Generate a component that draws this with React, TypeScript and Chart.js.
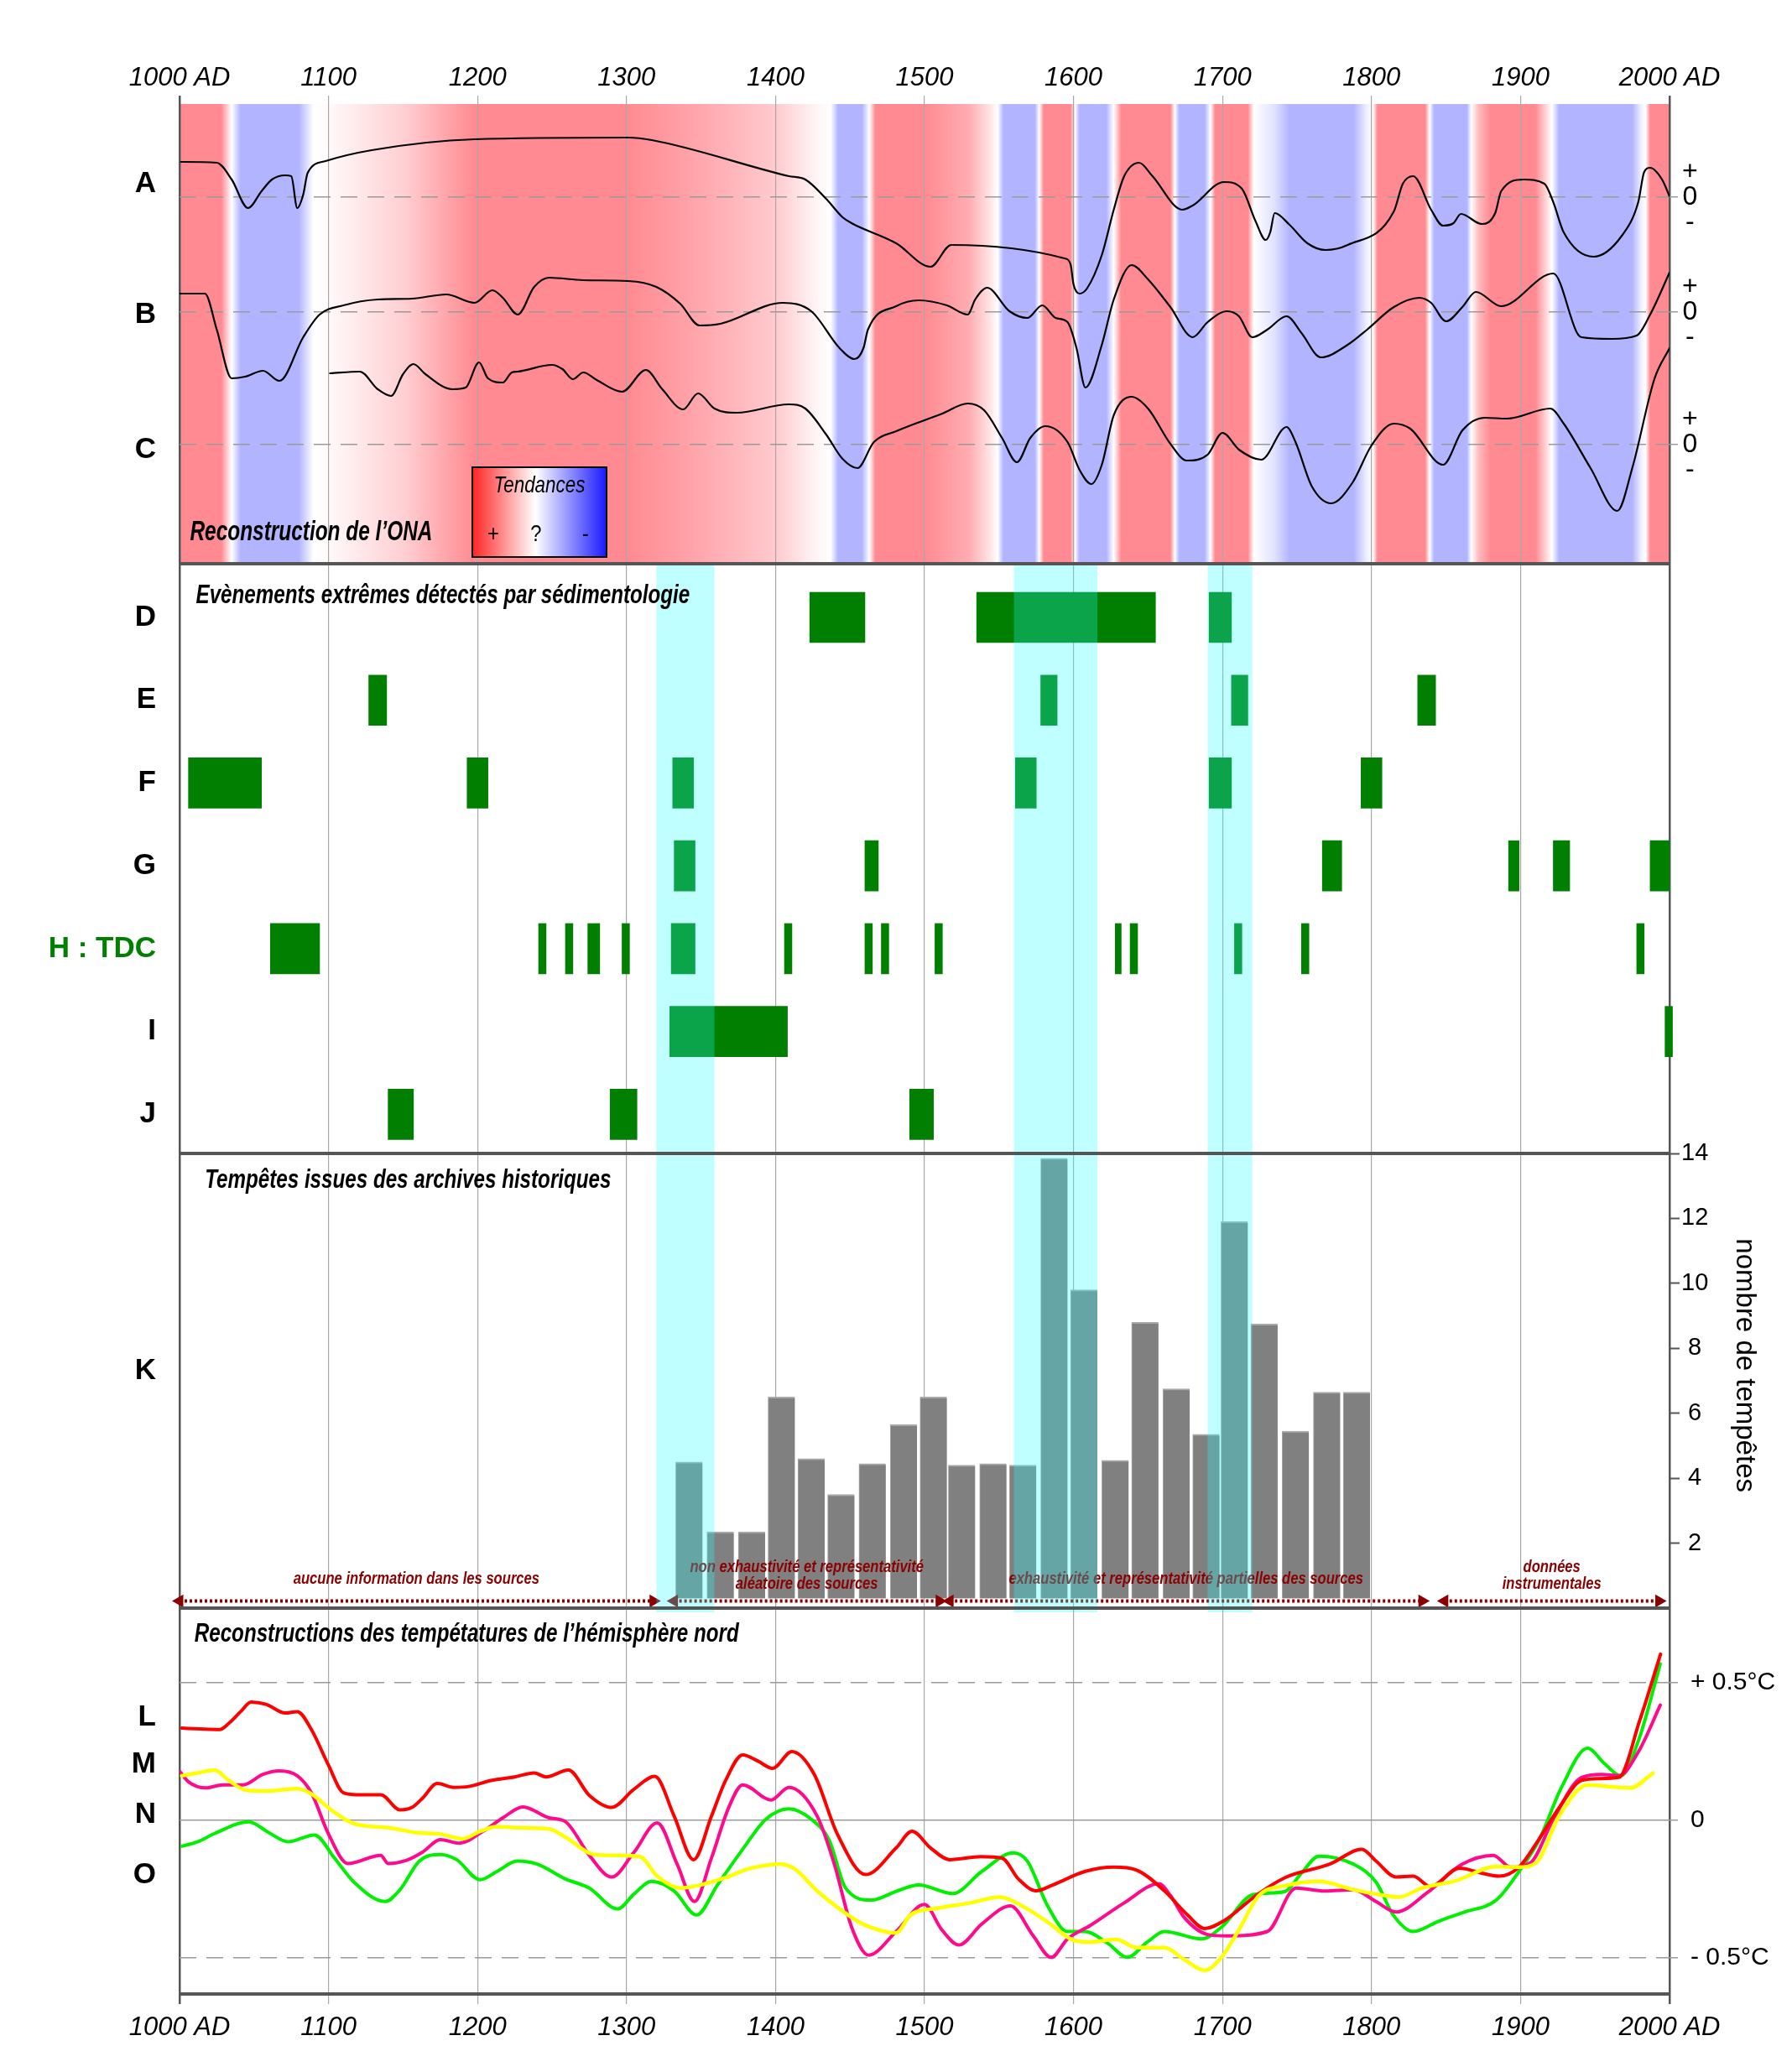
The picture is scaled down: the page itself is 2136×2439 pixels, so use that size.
import React, { useEffect, useRef } from 'react';
import { Chart, registerables } from 'chart.js';

Chart.register(...registerables);

// ------------------------------------------------------------------ data
const yearTicks = [1000, 1100, 1200, 1300, 1400, 1500, 1600, 1700, 1800, 1900, 2000];

// ONA trend (background): +1 positive (red), 0 uncertain (white), -1 negative (blue)
const trendPoints = [
  [1000, 1], [1028, 1], [1035, 0], [1041, -1], [1080, -1], [1090, 0], [1100, 0.05], [1150, 0.4],
  [1198, 1], [1300, 1], [1350, 0.75], [1400, 0.45], [1425, 0.12], [1437, 0], [1442, -1], [1458, -1],
  [1463, 0], [1467, 1], [1500, 1], [1530, 0.7], [1545, 0.2], [1549, 0], [1553, -1], [1574, -1],
  [1577, 0], [1580, 1], [1598, 1], [1601, 0], [1604, -1], [1622, -1], [1627, 0], [1632, 1],
  [1665, 1], [1668, 0], [1671, -1], [1688, -1], [1692, 0], [1695, 1], [1717, 1], [1721, 0],
  [1735, -0.4], [1745, -1], [1788, -1], [1797, -0.2], [1801, 0], [1804, 1], [1836, 1], [1839, 0],
  [1842, -1], [1864, -1], [1867, 0], [1872, 0.6], [1880, 1], [1910, 1], [1921, 0], [1926, -1],
  [1975, -1], [1981, -0.2], [1984, 0], [1987, 1], [2000, 1],
];

// NAO reconstructions A, B, C (anomaly, arbitrary units)
const curveA = [
  [1001, 0.42], [1025, 0.41], [1035, 0.21], [1046, -0.13], [1055, 0.07], [1062, 0.21], [1071, 0.26],
  [1075, 0.25], [1079, -0.13], [1083, 0.03], [1086, 0.29], [1098, 0.43], [1129, 0.56], [1198, 0.69],
  [1301, 0.71], [1317, 0.68], [1409, 0.25], [1420, 0.21], [1434, -0.02], [1445, -0.24], [1451, -0.31],
  [1481, -0.55], [1504, -0.83], [1518, -0.57], [1594, -0.73], [1598, -0.8], [1600, -1.04], [1604, -1.15],
  [1609, -1.09], [1619, -0.69], [1627, -0.15], [1634, 0.25], [1644, 0.41], [1653, 0.25], [1673, -0.15],
  [1680, -0.1], [1701, 0.18], [1713, 0.1], [1722, -0.28], [1729, -0.51], [1732, -0.42], [1735, -0.19],
  [1745, -0.33], [1757, -0.55], [1769, -0.63], [1784, -0.57], [1815, -0.17], [1821, 0.16], [1828, 0.25],
  [1840, -0.15], [1848, -0.34], [1855, -0.31], [1860, -0.2], [1874, -0.32], [1883, -0.19], [1887, 0.07],
  [1902, 0.21], [1916, 0.16], [1922, -0.06], [1929, -0.42], [1949, -0.71], [1968, -0.46], [1979, -0.06],
  [1983, 0.3], [1987, 0.35], [1995, 0.21], [2000, 0.01],
];
const curveB = [
  [1000, 0.22], [1017, 0.22], [1025, -0.21], [1035, -0.79], [1044, -0.77], [1056, -0.7], [1067, -0.82],
  [1083, -0.3], [1094, -0.03], [1110, 0.08], [1133, 0.15], [1156, 0.16], [1179, 0.21], [1198, 0.11],
  [1210, 0.26], [1217, 0.17], [1227, -0.03], [1238, 0.3], [1248, 0.41], [1271, 0.38], [1301, 0.37],
  [1320, 0.3], [1336, 0.1], [1349, -0.16], [1363, -0.14], [1405, 0.11], [1424, 0.01], [1443, -0.43],
  [1453, -0.56], [1459, -0.43], [1462, -0.21], [1481, 0.07], [1496, 0.14], [1515, 0.08], [1529, -0.03],
  [1534, 0.15], [1542, 0.29], [1557, 0.01], [1569, -0.07], [1579, 0.08], [1588, -0.07], [1596, -0.12],
  [1602, -0.43], [1608, -0.9], [1619, -0.39], [1627, 0.15], [1639, 0.56], [1650, 0.39], [1665, 0.06],
  [1680, -0.3], [1690, -0.12], [1703, 0.01], [1711, -0.05], [1720, -0.3], [1730, -0.21], [1743, -0.05],
  [1753, -0.25], [1766, -0.54], [1784, -0.39], [1797, -0.21], [1815, 0.06], [1832, 0.17], [1840, 0.11],
  [1850, -0.11], [1861, 0.06], [1870, 0.24], [1887, 0.07], [1922, 0.46], [1938, -0.25], [1941, -0.3],
  [1961, -0.32], [1978, -0.28], [1987, -0.03], [2000, 0.47],
];
const curveC = [
  [1101, 0.85], [1121, 0.87], [1133, 0.66], [1142, 0.58], [1150, 0.84], [1157, 0.96], [1165, 0.84],
  [1183, 0.66], [1192, 0.68], [1201, 0.98], [1207, 0.79], [1217, 0.74], [1223, 0.86], [1227, 0.87],
  [1250, 0.95], [1257, 0.9], [1264, 0.78], [1271, 0.86], [1280, 0.77], [1297, 0.63], [1313, 0.89],
  [1324, 0.66], [1338, 0.42], [1348, 0.61], [1359, 0.43], [1374, 0.38], [1409, 0.48], [1420, 0.43],
  [1434, 0.12], [1445, -0.17], [1455, -0.28], [1466, 0.03], [1481, 0.16], [1512, 0.37], [1529, 0.49],
  [1540, 0.41], [1552, 0.08], [1562, -0.21], [1571, 0.08], [1581, 0.22], [1596, 0.03], [1604, -0.3],
  [1612, -0.47], [1619, -0.24], [1627, 0.35], [1639, 0.57], [1650, 0.43], [1665, 0.01], [1676, -0.19],
  [1690, -0.12], [1700, 0.14], [1711, -0.06], [1726, -0.18], [1743, 0.21], [1749, 0.03], [1760, -0.5],
  [1773, -0.7], [1787, -0.46], [1800, -0.01], [1815, 0.25], [1826, 0.19], [1848, -0.24], [1861, 0.17],
  [1876, 0.32], [1891, 0.31], [1920, 0.43], [1929, 0.25], [1947, -0.28], [1965, -0.79], [1975, -0.28],
  [1990, 0.79], [2000, 1.15],
];

// extreme events detected by sedimentology (start, end years)
const eventRows = ['D', 'E', 'F', 'G', 'H : TDC', 'I', 'J'];
const eventsD = [[1423, 1460], [1535, 1655], [1691, 1706]];
const eventsE = [[1127, 1139], [1578, 1589], [1706, 1717], [1831, 1843]];
const eventsF = [[1006, 1055], [1193, 1207], [1331, 1345], [1561, 1575], [1691, 1706], [1793, 1807]];
const eventsG = [[1332, 1346], [1460, 1469], [1767, 1780], [1892, 1899], [1922, 1933], [1987, 2000]];
const eventsH = [
  [1061, 1094], [1241, 1246], [1259, 1264], [1274, 1282], [1297, 1302], [1330, 1346], [1406, 1411],
  [1460, 1465], [1471, 1476], [1507, 1512], [1628, 1632], [1638, 1643], [1708, 1713], [1753, 1758],
  [1978, 1983],
];
const eventsI = [[1329, 1408], [1997, 2002]];
const eventsJ = [[1140, 1157], [1289, 1307], [1490, 1506]];

// storms from historical archives
const stormYears = [1342, 1363, 1384, 1404, 1424, 1444, 1465, 1486, 1506, 1525, 1546, 1566, 1587, 1607, 1628, 1648, 1669, 1689, 1708, 1728, 1749, 1770, 1790];
const stormCounts = [4.5, 2.35, 2.35, 6.5, 4.6, 3.5, 4.45, 5.65, 6.5, 4.4, 4.45, 4.4, 13.85, 9.8, 4.55, 8.8, 6.75, 5.35, 11.9, 8.75, 5.45, 6.65, 6.65];
const stormTicks = [2, 4, 6, 8, 10, 12, 14];

// periods highlighted in cyan
const highlightPeriods = [[1320, 1359], [1560, 1616], [1690, 1720]];

// source quality periods
const sourcePeriods = [[1000, 1318], [1332, 1510], [1517, 1834], [1849, 1993]];
const sourceLabels = [
  ['aucune information dans les sources'],
  ['non exhaustivité et représentativité', 'aléatoire des sources'],
  ['exhaustivité et représentativité partielles des sources'],
  ['données', 'instrumentales'],
];

// northern hemisphere temperature reconstructions (°C anomaly)
const tempL = [
  [1001.5, 0.335], [1014, 0.332], [1027, 0.33], [1033, 0.352], [1041, 0.395], [1048, 0.43], [1058, 0.422],
  [1071, 0.39], [1079, 0.395], [1088.5, 0.33], [1100, 0.2], [1110, 0.1], [1119, 0.093], [1135, 0.093],
  [1148, 0.038], [1156, 0.047], [1163, 0.08], [1173, 0.134], [1184, 0.12], [1194, 0.123], [1209, 0.145],
  [1225, 0.158], [1238, 0.172], [1246, 0.158], [1261, 0.183], [1275, 0.091], [1290, 0.047], [1305, 0.113],
  [1319, 0.16], [1332, 0.015], [1345, -0.143], [1357, 0.015], [1366.5, 0.145], [1378, 0.238], [1388, 0.216],
  [1398, 0.189], [1411, 0.25], [1426, 0.167], [1441.5, -0.05], [1460.5, -0.197], [1481, -0.1], [1491.6, -0.04],
  [1504, -0.1], [1517, -0.143], [1538, -0.132], [1552, -0.137], [1563, -0.213], [1575, -0.256], [1586, -0.235],
  [1607.5, -0.186], [1627, -0.17], [1642, -0.18], [1661, -0.256], [1676.5, -0.344], [1688, -0.393],
  [1701, -0.365], [1722.5, -0.273], [1742, -0.208], [1772, -0.159], [1793.5, -0.105], [1803, -0.148],
  [1816.5, -0.206], [1828, -0.203], [1839.5, -0.241], [1859, -0.174], [1874, -0.192], [1885.5, -0.203],
  [1899, -0.17], [1912, -0.072], [1926, 0.047], [1941, 0.145], [1953, 0.152], [1966, 0.156], [1980, 0.363],
  [1994, 0.604],
];
const tempM = [
  [1000, 0.178], [1006, 0.14], [1017.6, 0.118], [1029, 0.129], [1042.5, 0.129], [1056, 0.167], [1067, 0.18],
  [1079, 0.162], [1088.5, 0.1], [1100, -0.05], [1113, -0.157], [1135, -0.127], [1140, -0.157], [1152, -0.146],
  [1163, -0.116], [1175, -0.07], [1188, -0.083], [1203.6, -0.04], [1217, 0.009], [1230.5, 0.049], [1248, 0.009],
  [1259, -0.005], [1275, -0.127], [1290, -0.206], [1305, -0.116], [1320.6, -0.009], [1334, -0.16],
  [1345.6, -0.295], [1357, -0.137], [1368.6, 0.047], [1378, 0.129], [1397, 0.074], [1409, 0.12], [1428, 0.015],
  [1439.5, -0.16], [1451, -0.387], [1462.5, -0.49], [1481, -0.404], [1500, -0.306], [1511.6, -0.398],
  [1523, -0.453], [1538.4, -0.377], [1557.6, -0.311], [1573, -0.42], [1585, -0.498], [1596, -0.431],
  [1611.3, -0.382], [1634, -0.3], [1657.3, -0.23], [1665, -0.273], [1674.6, -0.355], [1690, -0.415],
  [1703.4, -0.42], [1730, -0.404], [1749.4, -0.246], [1768.6, -0.257], [1787.8, -0.252], [1803, -0.295],
  [1816.5, -0.333], [1837.6, -0.262], [1860.6, -0.16], [1881.7, -0.127], [1893.3, -0.17], [1906.7, -0.154],
  [1922, 0.004], [1941, 0.156], [1954.6, 0.167], [1966, 0.162], [1979.6, 0.254], [1993.8, 0.419],
];
const tempN = [
  [1001.5, 0.162], [1012, 0.172], [1023.5, 0.183], [1033, 0.145], [1044.5, 0.11], [1060, 0.107], [1079, 0.115],
  [1088.5, 0.096], [1102, 0.037], [1117, -0.012], [1140, -0.027], [1159.6, -0.045], [1175, -0.05],
  [1190, -0.067], [1201.7, -0.04], [1213, -0.023], [1228.6, -0.027], [1248, -0.031], [1259, -0.061],
  [1278.5, -0.124], [1294, -0.127], [1309, -0.132], [1320.6, -0.203], [1336, -0.246], [1349.4, -0.235],
  [1366.6, -0.208], [1382, -0.176], [1403, -0.159], [1412.7, -0.176], [1428, -0.257], [1443, -0.322],
  [1458.6, -0.377], [1481, -0.409], [1490.5, -0.344], [1507.8, -0.32], [1530.8, -0.3], [1550, -0.279],
  [1569, -0.322], [1584.5, -0.377], [1600, -0.436], [1611.3, -0.442], [1628.6, -0.433], [1642, -0.462],
  [1661, -0.463], [1674.6, -0.507], [1688, -0.545], [1699.5, -0.496], [1711, -0.398], [1724.5, -0.273],
  [1741.7, -0.238], [1764.7, -0.222], [1787.8, -0.252], [1803, -0.268], [1818.5, -0.279], [1833.8, -0.246],
  [1856.8, -0.219], [1883.7, -0.168], [1899, -0.17], [1910.5, -0.154], [1925.8, 0.015], [1945, 0.129],
  [1958.6, 0.123], [1973.8, 0.118], [1989, 0.172],
];
const tempO = [
  [1001.5, -0.094], [1012, -0.078], [1023.5, -0.048], [1046.5, -0.005], [1060, -0.045], [1073, -0.078],
  [1090.5, -0.053], [1104, -0.137], [1117, -0.224], [1138, -0.295], [1148, -0.252], [1161, -0.148],
  [1175, -0.124], [1186, -0.143], [1201.7, -0.216], [1213, -0.186], [1226.6, -0.148], [1240, -0.159],
  [1259, -0.213], [1275, -0.246], [1294, -0.322], [1305, -0.268], [1316.7, -0.222], [1332, -0.257],
  [1347, -0.344], [1361, -0.235], [1378, -0.105], [1393.5, 0.004], [1409, 0.042], [1424, 0.004], [1436, -0.072],
  [1447, -0.246], [1464.5, -0.29], [1481, -0.258], [1496, -0.235], [1519, -0.266], [1538.4, -0.186],
  [1559.5, -0.118], [1569, -0.148], [1582.6, -0.311], [1596, -0.404], [1607.5, -0.404], [1623, -0.447],
  [1636, -0.498], [1649.6, -0.442], [1661, -0.404], [1686, -0.431], [1699.5, -0.387], [1720.6, -0.27],
  [1741.7, -0.259], [1753, -0.192], [1764.7, -0.13], [1787.8, -0.159], [1803, -0.224], [1814.6, -0.344],
  [1828, -0.404], [1845.3, -0.366], [1862.6, -0.333], [1883.7, -0.29], [1899, -0.186], [1912.4, -0.072],
  [1927.8, 0.123], [1945, 0.262], [1956.6, 0.205], [1967.3, 0.162], [1979.6, 0.297], [1993.8, 0.569],
];
const tempTicks = [0.5, 0, -0.5];
const tempTickLabels = ['+ 0.5°C', '0', '- 0.5°C'];

const abcRows = ['A', 'B', 'C'];
const tempRows = ['L', 'M', 'N', 'O'];

// ------------------------------------------------------------------ styles / layout
const W = 2136;
const H = 2439;
const SANS = "'Liberation Sans', Arial, sans-serif";
const LEFT_W = 214;
const RIGHT_W = 146;
const ABC_BASE = [2.95, 1.58, 0];
const ABC_LABEL_POS = [3.11, 1.55, -0.06];
const TEMP_LABEL_POS = [0.373, 0.204, 0.021, -0.198];
const K_LABEL_POS = 7.3;
const ARROW_Y = 0.22;
const DARK_RED = '#8b0000';

function trendColor(v: number) {
  const red = [255, 138, 145];
  const blue = [178, 180, 255];
  const t = Math.min(1, Math.abs(v));
  const c = v >= 0 ? red : blue;
  const rgb = c.map((ch) => Math.round(255 + (ch - 255) * t));
  return `rgb(${rgb.join(',')})`;
}

// condensed text (horizontally squeezed Liberation Sans, like Arial Narrow)
function narrowText(ctx: CanvasRenderingContext2D, text: string, x: number, y: number, font: string, align: CanvasTextAlign, sx = 0.78) {
  ctx.save();
  ctx.font = font;
  ctx.textAlign = align;
  ctx.textBaseline = 'middle';
  ctx.translate(x, y);
  ctx.scale(sx, 1);
  ctx.fillText(text, 0, 0);
  ctx.restore();
}

const isEdgeYear = (c: any) => c.tick && (c.tick.value === 1000 || c.tick.value === 2000);
const gridColor = (c: any) => (isEdgeYear(c) ? '#555' : '#a8a8a8');
const gridWidth = (c: any) => (isEdgeYear(c) ? 2.5 : 1.2);
const yearLabel = (v: any) => (v === 1000 || v === 2000 ? `${v} AD` : `${v}`);

const decorPlugin = {
  id: 'decor',
  beforeDraw(chart: any) {
    const { ctx, scales } = chart;
    const x = scales.x;
    const ya = scales.yABC;
    const x0 = x.getPixelForValue(1000);
    const x1 = x.getPixelForValue(2000);
    const g = ctx.createLinearGradient(x0, 0, x1, 0);
    trendPoints.forEach(([yr, v]) => {
      g.addColorStop((x.getPixelForValue(yr) - x0) / (x1 - x0), trendColor(v));
    });
    ctx.save();
    ctx.fillStyle = g;
    ctx.fillRect(x0, ya.top, x1 - x0, ya.bottom - ya.top);
    ctx.restore();
  },
  afterDatasetsDraw(chart: any) {
    const { ctx, scales } = chart;
    const x = scales.x;
    const yk = scales.yK;
    const ye = scales.yEv;
    const ya = scales.yABC;
    ctx.save();
    // source-quality annotations
    ctx.fillStyle = DARK_RED;
    const ay = yk.getPixelForValue(ARROW_Y);
    sourcePeriods.forEach(([s, e], i) => {
      const cx = x.getPixelForValue((s + e) / 2);
      const lines = sourceLabels[i];
      lines.forEach((t, j) => {
        const yy = lines.length === 1 ? ay - 26 : ay - 20 - (lines.length - 1 - j) * 20;
        narrowText(ctx, t, cx, yy, `italic bold 20px ${SANS}`, 'center', 0.83);
      });
    });
    // cyan highlight periods
    ctx.fillStyle = 'rgba(38,255,255,0.29)';
    highlightPeriods.forEach(([s, e]) => {
      const a = x.getPixelForValue(s);
      const b = x.getPixelForValue(e);
      ctx.fillRect(a, ye.top, b - a, yk.bottom + 5 - ye.top);
    });
    // "Tendances" legend
    const lx0 = x.getPixelForValue(1196.5);
    const lx1 = x.getPixelForValue(1286.6);
    const ly0 = ya.getPixelForValue(-0.27);
    const ly1 = ya.getPixelForValue(-1.34);
    const lg = ctx.createLinearGradient(lx0, 0, lx1, 0);
    lg.addColorStop(0, 'rgb(255,35,35)');
    lg.addColorStop(0.47, '#ffffff');
    lg.addColorStop(1, 'rgb(25,25,255)');
    ctx.fillStyle = lg;
    ctx.fillRect(lx0, ly0, lx1 - lx0, ly1 - ly0);
    ctx.strokeStyle = '#000';
    ctx.lineWidth = 2;
    ctx.strokeRect(lx0, ly0, lx1 - lx0, ly1 - ly0);
    ctx.fillStyle = '#000';
    narrowText(ctx, 'Tendances', (lx0 + lx1) / 2, ly0 + 22, `italic 28px ${SANS}`, 'center', 0.8);
    narrowText(ctx, '+', lx0 + 25, ly1 - 27, `28px ${SANS}`, 'center', 0.85);
    narrowText(ctx, '?', lx0 + 76, ly1 - 27, `28px ${SANS}`, 'center', 0.85);
    narrowText(ctx, '-', lx0 + 135, ly1 - 27, `28px ${SANS}`, 'center', 0.85);
    ctx.restore();
  },
  afterDraw(chart: any) {
    const { ctx, scales, chartArea } = chart;
    const x = scales.x;
    ctx.save();
    ctx.strokeStyle = '#555';
    ctx.lineWidth = 4;
    [scales.yEv.top, scales.yK.top, scales.yT.top, chartArea.bottom].forEach((yy: number) => {
      ctx.beginPath();
      ctx.moveTo(chartArea.left - 1, yy);
      ctx.lineTo(chartArea.right + 1, yy);
      ctx.stroke();
    });
    ctx.fillStyle = '#000';
    const tf = `italic bold 31px ${SANS}`;
    narrowText(ctx, 'Reconstruction de l’ONA', x.getPixelForValue(1007), scales.yABC.getPixelForValue(-1.05), `italic bold 33px ${SANS}`, 'left', 0.74);
    narrowText(ctx, 'Evènements extrêmes détectés par sédimentologie', x.getPixelForValue(1011), scales.yEv.top + 38, tf, 'left');
    narrowText(ctx, 'Tempêtes issues des archives historiques', x.getPixelForValue(1017), scales.yK.top + 32, tf, 'left');
    narrowText(ctx, 'Reconstructions des tempétatures de l’hémisphère nord', x.getPixelForValue(1010), scales.yT.top + 31, tf, 'left');
    ctx.restore();
  },
};

function lineDs(pts: number[][], yAxisID: string, color: string, width: number, offset = 0) {
  return {
    type: 'line',
    xAxisID: 'x',
    yAxisID,
    data: pts.map(([yr, v]) => ({ x: yr, y: v + offset })),
    borderColor: color,
    borderWidth: width,
    pointRadius: 0,
    fill: false,
    cubicInterpolationMode: 'monotone',
    borderJoinStyle: 'round',
    borderCapStyle: 'round',
  };
}

const leftFont = { family: SANS, size: 35, weight: 'bold' };

function leftAxis(weight: number, stackWeight: number, min: number, max: number, positions: number[], labels: string[], extra: any = {}) {
  return {
    type: 'linear',
    position: 'left',
    stack: 'left',
    stackWeight,
    weight,
    min,
    max,
    bounds: 'data',
    offset: false,
    beginAtZero: false,
    border: { display: false },
    grid: { display: false, drawTicks: false, offset: false },
    afterBuildTicks: (s: any) => {
      s.ticks = positions.map((v) => ({ value: v }));
    },
    afterFit: (s: any) => {
      s.width = LEFT_W;
    },
    ticks: {
      autoSkip: false,
      padding: 28,
      color: '#000',
      font: leftFont,
      callback: (_v: any, i: number) => labels[i],
    },
    ...extra,
  };
}

function buildConfig(): any {
  const eventSeries = [eventsD, eventsE, eventsF, eventsG, eventsH, eventsI, eventsJ];
  const eventData = eventSeries.flatMap((row, r) => row.map(([s, e]) => ({ x: [s, e], y: r })));

  const arrowSets = sourcePeriods.map(([s, e]) => ({
    type: 'line',
    xAxisID: 'x',
    yAxisID: 'yK',
    data: [
      { x: s, y: ARROW_Y },
      { x: e, y: ARROW_Y },
    ],
    borderColor: DARK_RED,
    borderWidth: 4,
    borderDash: [3, 3],
    borderCapStyle: 'butt',
    pointStyle: 'triangle',
    pointRadius: 9,
    pointRotation: [-90, 90],
    pointBackgroundColor: DARK_RED,
    pointBorderColor: DARK_RED,
    pointBorderWidth: 0,
    fill: false,
    tension: 0,
    clip: false,
  }));

  const datasets: any[] = [
    ...arrowSets,
    lineDs(tempN, 'yT', '#ffff00', 4.5),
    lineDs(tempL, 'yT', '#ff0000', 4),
    lineDs(tempM, 'yT', '#ff0a8c', 4),
    lineDs(tempO, 'yT', '#00f000', 4),
    lineDs(curveA, 'yABC', '#000', 2.2, ABC_BASE[0]),
    lineDs(curveB, 'yABC', '#000', 2.2, ABC_BASE[1]),
    lineDs(curveC, 'yABC', '#000', 2.2, ABC_BASE[2]),
    {
      type: 'bar',
      xAxisID: 'x',
      yAxisID: 'yK',
      data: stormYears.map((yr, i) => ({ x: yr, y: stormCounts[i] })),
      backgroundColor: '#808080',
      borderColor: '#a9a9a9',
      borderWidth: { top: 2, left: 1, right: 0, bottom: 0 },
      borderSkipped: false,
      barThickness: 32,
      grouped: false,
      base: 0.3,
    },
    {
      type: 'bar',
      indexAxis: 'y',
      xAxisID: 'xe',
      yAxisID: 'yEv',
      data: eventData,
      backgroundColor: '#007f00',
      borderWidth: 0,
      barThickness: 60,
      grouped: false,
      clip: false,
    },
  ];

  const abcTickVals = ABC_BASE.flatMap((b) => [b + 0.3, b, b - 0.3]);
  const isBase = (c: any) => c.tick && ABC_BASE.includes(c.tick.value);

  return {
    type: 'line',
    data: { datasets },
    plugins: [decorPlugin],
    options: {
      responsive: false,
      devicePixelRatio: 1,
      animation: false,
      events: [],
      layout: { padding: 0 },
      plugins: { legend: { display: false }, tooltip: { enabled: false }, title: { display: false } },
      scales: {
        x: {
          type: 'linear',
          position: 'top',
          min: 1000,
          max: 2000,
          bounds: 'data',
          offset: false,
          beginAtZero: false,
          afterBuildTicks: (s: any) => {
            s.ticks = yearTicks.map((v) => ({ value: v }));
          },
          afterFit: (s: any) => {
            s.height = 124;
          },
          border: { display: false },
          grid: { offset: false, drawOnChartArea: true, drawTicks: true, tickLength: 10, color: gridColor, lineWidth: gridWidth, tickColor: gridColor, tickWidth: gridWidth },
          ticks: { autoSkip: false, maxRotation: 0, padding: 2, color: '#000', font: { family: SANS, size: 31, style: 'italic' }, callback: yearLabel },
        },
        xb: {
          type: 'linear',
          position: 'bottom',
          min: 1000,
          max: 2000,
          bounds: 'data',
          offset: false,
          afterBuildTicks: (s: any) => {
            s.ticks = yearTicks.map((v) => ({ value: v }));
          },
          afterFit: (s: any) => {
            s.height = 62;
          },
          border: { display: false },
          grid: { offset: false, drawOnChartArea: false, drawTicks: true, tickLength: 12, color: gridColor, lineWidth: gridWidth, tickColor: gridColor, tickWidth: gridWidth },
          ticks: { autoSkip: false, maxRotation: 0, padding: 10, color: '#000', font: { family: SANS, size: 31, style: 'italic' }, callback: yearLabel },
        },
        xe: {
          type: 'linear',
          position: 'top',
          display: false,
          min: 1000,
          max: 2000,
          bounds: 'data',
          offset: false,
          beginAtZero: false,
          ticks: { display: false },
          grid: { display: false, offset: false },
          afterFit: (s: any) => {
            s.height = 0;
          },
        },
        yABC: leftAxis(40, 548, -1.42, 4.06, ABC_LABEL_POS, abcRows),
        yEv: leftAxis(30, 703, -0.648, 6.472, eventRows.map((_, i) => i), eventRows, {
          reverse: true,
          ticks: {
            autoSkip: false,
            padding: 28,
            font: leftFont,
            color: (c: any) => (c.tick && c.tick.value === 4 ? '#008000' : '#000'),
            callback: (_v: any, i: number) => eventRows[i],
          },
        }),
        yK: leftAxis(20, 542, 0, 14, [K_LABEL_POS], ['K']),
        yT: leftAxis(10, 460, -0.6311, 0.7713, TEMP_LABEL_POS, tempRows),
        rABC: {
          type: 'linear',
          position: 'right',
          stack: 'right',
          stackWeight: 548,
          weight: 1,
          min: -1.42,
          max: 4.06,
          bounds: 'data',
          border: { display: false, dash: [20, 12] },
          grid: {
            drawOnChartArea: true,
            drawTicks: true,
            tickLength: 10,
            lineWidth: 1.5,
            color: (c: any) => (isBase(c) ? '#9a9a9a' : 'rgba(0,0,0,0)'),
            tickColor: (c: any) => (isBase(c) ? '#9a9a9a' : 'rgba(0,0,0,0)'),
            tickBorderDash: [],
          },
          afterBuildTicks: (s: any) => {
            s.ticks = abcTickVals.map((v) => ({ value: v }));
          },
          afterFit: (s: any) => {
            s.width = RIGHT_W;
          },
          ticks: {
            autoSkip: false,
            crossAlign: 'center',
            padding: 5,
            color: '#000',
            font: { family: SANS, size: 32 },
            callback: (_v: any, i: number) => ['+', '0', '-'][i % 3],
          },
        },
        rEv: {
          type: 'linear',
          position: 'right',
          stack: 'right',
          stackWeight: 703,
          weight: 2,
          min: 0,
          max: 1,
          border: { display: false },
          grid: { display: false },
          ticks: { display: false },
          afterBuildTicks: (s: any) => {
            s.ticks = [];
          },
          afterFit: (s: any) => {
            s.width = RIGHT_W;
          },
        },
        rK: {
          type: 'linear',
          position: 'right',
          stack: 'right',
          stackWeight: 542,
          weight: 3,
          min: 0,
          max: 14,
          bounds: 'data',
          border: { display: false },
          grid: { drawOnChartArea: false, drawTicks: true, tickLength: 12, tickColor: '#555', tickWidth: 2, color: '#555' },
          afterBuildTicks: (s: any) => {
            s.ticks = stormTicks.map((v) => ({ value: v }));
          },
          afterFit: (s: any) => {
            s.width = RIGHT_W;
          },
          ticks: { autoSkip: false, crossAlign: 'center', padding: 2, color: '#000', font: { family: SANS, size: 29 } },
          title: {
            display: true,
            text: 'nombre de tempêtes\u00a0\u00a0\u00a0\u00a0',
            color: '#000',
            font: { family: SANS, size: 33 },
            padding: { top: 37, bottom: 0 },
          },
        },
        rT: {
          type: 'linear',
          position: 'right',
          stack: 'right',
          stackWeight: 460,
          weight: 4,
          min: -0.6311,
          max: 0.7713,
          bounds: 'data',
          border: { display: false, dash: (c: any) => (c.tick && c.tick.value === 0 ? [] : [20, 12]) },
          grid: { drawOnChartArea: true, drawTicks: true, tickLength: 10, lineWidth: 1.5, color: '#9a9a9a', tickColor: '#9a9a9a', tickBorderDash: [] },
          afterBuildTicks: (s: any) => {
            s.ticks = tempTicks.map((v) => ({ value: v }));
          },
          afterFit: (s: any) => {
            s.width = RIGHT_W;
          },
          ticks: { autoSkip: false, padding: 15, color: '#000', font: { family: SANS, size: 30 }, callback: (_v: any, i: number) => tempTickLabels[i] },
        },
      },
    },
  };
}

export default function App() {
  const ref = useRef<HTMLCanvasElement>(null);
  useEffect(() => {
    if (!ref.current) return;
    const chart = new Chart(ref.current, buildConfig());
    return () => chart.destroy();
  }, []);
  return (
    <div style={{ position: 'absolute', left: 0, top: 0, width: W, height: H, background: '#fff' }}>
      <canvas ref={ref} width={W} height={H} style={{ width: W, height: H, display: 'block' }} />
    </div>
  );
}
